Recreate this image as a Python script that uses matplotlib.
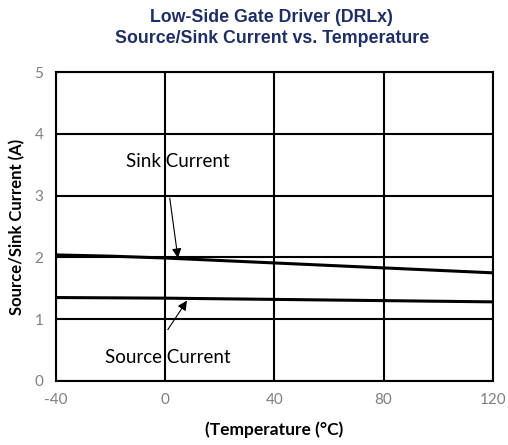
import matplotlib
matplotlib.use('Agg')
from matplotlib import pyplot as plt

plt.rcParams['axes.unicode_minus'] = False

temp = [-40, -20, 0, 20, 40, 60, 80, 100, 120]
sink = [2.04, 2.02, 1.99, 1.95, 1.91, 1.87, 1.83, 1.79, 1.75]
source = [1.35, 1.345, 1.34, 1.33, 1.32, 1.31, 1.30, 1.29, 1.28]

xticks = [-40, 0, 40, 80, 120]
yticks = [0, 1, 2, 3, 4, 5]

fig = plt.figure(figsize=(5.08, 4.45), dpi=100)
ax = fig.add_axes([0.110, 0.144, 0.860, 0.694])

ax.plot(temp, sink, color='black', linewidth=2.2, zorder=3)
ax.plot(temp, source, color='black', linewidth=2.2, zorder=3)

ax.set_xlim(-40, 120)
ax.set_ylim(0, 5)
ax.set_xticks(xticks)
ax.set_yticks(yticks)
ax.grid(True, color='black', linewidth=1.5)
for s in ax.spines.values():
    s.set_linewidth(1.5)
ax.tick_params(length=0, labelsize=11, labelcolor='#7f7f7f', pad=9)
for lab in ax.get_xticklabels() + ax.get_yticklabels():
    lab.set_fontfamily('Lato')

ax.set_xlabel('(Temperature (°C)', fontfamily='Lato', fontweight='bold', fontsize=12.5, labelpad=10)
ax.set_ylabel('Source/Sink Current (A)', fontfamily='Lato', fontweight='bold', fontsize=12, labelpad=7)

fig.suptitle('Low-Side Gate Driver (DRLx)\nSource/Sink Current vs. Temperature',
             x=0.535, y=0.98, fontsize=12.8, fontweight='bold', color='#1f2f66',
             fontfamily='Liberation Sans', linespacing=1.3)

# labels
ax.text(4.7, 3.56, 'Sink Current', ha='center', va='center', fontsize=13.5, fontfamily='Lato')
ax.text(1.0, 0.38, 'Source Current', ha='center', va='center', fontsize=13.5, fontfamily='Lato')

# arrows
arrow = dict(arrowstyle='-|>', color='black', lw=0.8, mutation_scale=14, shrinkA=0, shrinkB=0)
ax.annotate('', xy=(4.7, 1.99), xytext=(1.7, 2.96), arrowprops=arrow)
ax.annotate('', xy=(8.0, 1.30), xytext=(1.0, 0.83), arrowprops=arrow)

fig.savefig('out.png', dpi=100)
